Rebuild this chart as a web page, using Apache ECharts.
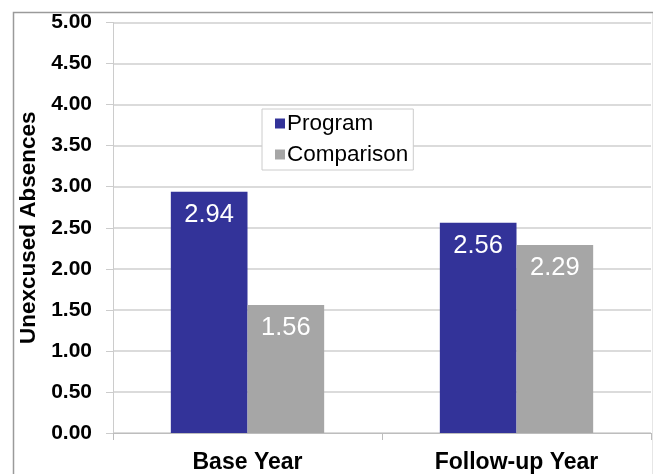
<!DOCTYPE html>
<html>
<head>
<meta charset="utf-8">
<script src="https://cdn.jsdelivr.net/npm/echarts@6/dist/echarts.min.js"></script>
<style>
  html, body { margin: 0; padding: 0; background: #fff; }
  #chart { width: 653px; height: 474px; }
</style>
</head>
<body>
<div id="chart"></div>
<script>
// School years compared
const categories = ['Base Year', 'Follow-up Year'];
// Average unexcused absences per student
const programValues = [2.94, 2.56];
const comparisonValues = [1.56, 2.29];
// Value axis range and step
const yMin = 0;
const yMax = 5;
const yStep = 0.5;

const font = 'Liberation Sans, Arial, sans-serif';
const chart = echarts.init(document.getElementById('chart'), null, { renderer: 'canvas' });

const valueLabel = {
  show: true,
  position: 'insideTop',
  distance: 10,
  color: '#ffffff',
  fontFamily: font,
  fontSize: 25.5,
  formatter: p => p.value.toFixed(2)
};

chart.setOption({
  animation: false,
  backgroundColor: '#ffffff',
  graphic: [{
    type: 'rect',
    left: 11, top: 10,
    shape: { width: 640, height: 480 },
    style: { fill: 'none', stroke: '#9a9a9a', lineWidth: 1.5 },
    z: -1
  }],
  grid: { left: 113, right: 2, top: 22.5, bottom: 38 },
  legend: {
    orient: 'vertical',
    left: 262, top: 109,
    padding: [3, 5, 4, 13],
    itemWidth: 10, itemHeight: 10, itemGap: 8,
    icon: 'rect',
    borderColor: '#cccccc', borderWidth: 1,
    backgroundColor: '#ffffff',
    textStyle: { fontFamily: font, fontSize: 22.5, color: '#000', padding: [0, 0, 0, -3] },
    data: ['Program', 'Comparison']
  },
  xAxis: {
    type: 'category',
    data: categories,
    axisLine: { lineStyle: { color: '#bdbdbd', width: 1 } },
    axisTick: { show: true, length: 7, lineStyle: { color: '#bdbdbd' } },
    axisLabel: { margin: 18, color: '#000', fontFamily: font, fontSize: 23, fontWeight: 'bold' }
  },
  yAxis: {
    type: 'value',
    min: yMin, max: yMax, interval: yStep,
    name: 'Unexcused Absences',
    nameLocation: 'middle',
    nameGap: 73,
    nameTextStyle: { color: '#000', fontFamily: font, fontSize: 22.5, fontWeight: 'bold' },
    axisLine: { show: true, lineStyle: { color: '#cccccc', width: 1 } },
    axisTick: { show: true, length: 7, lineStyle: { color: '#cccccc' } },
    axisLabel: {
      margin: 21, color: '#000', fontFamily: font, fontSize: 21, fontWeight: 'bold',
      padding: [0, 0, 3, 0],
      formatter: v => v.toFixed(2)
    },
    splitLine: { lineStyle: { color: '#cfcfcf', width: 1.5 } }
  },
  series: [
    {
      name: 'Program', type: 'bar', data: programValues,
      barGap: '0%', barCategoryGap: '43%',
      itemStyle: { color: '#333399' },
      label: valueLabel
    },
    {
      name: 'Comparison', type: 'bar', data: comparisonValues,
      barGap: '0%', barCategoryGap: '43%',
      itemStyle: { color: '#a6a6a6' },
      label: valueLabel
    }
  ]
});
</script>
</body>
</html>
